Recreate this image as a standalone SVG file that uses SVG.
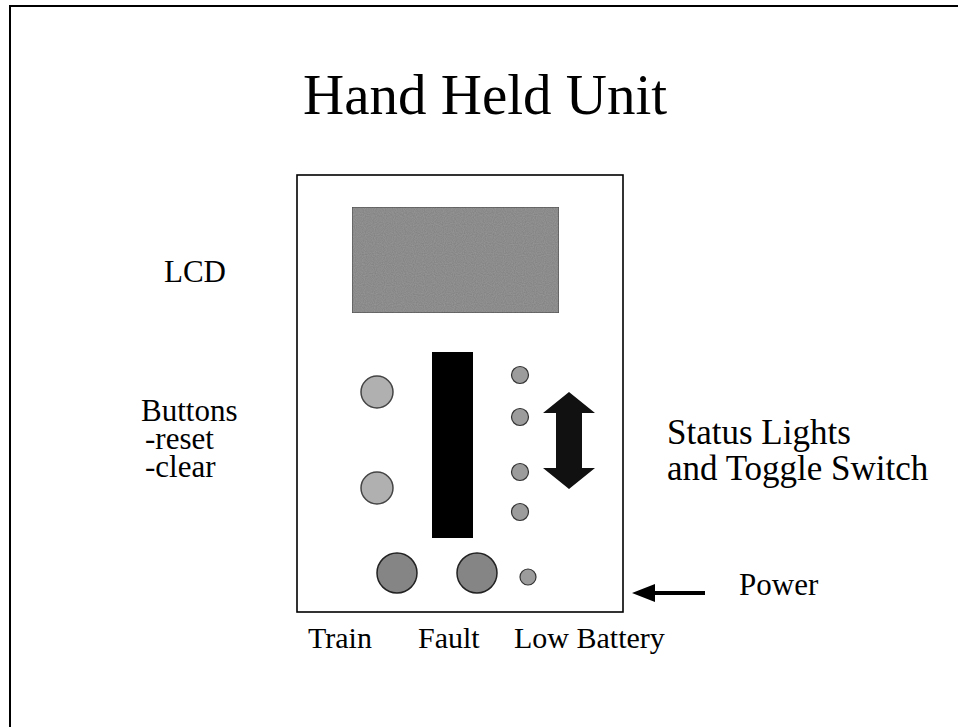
<svg xmlns="http://www.w3.org/2000/svg" width="958" height="727" viewBox="0 0 958 727">
  <style>
    .t { font-family: "Liberation Serif", "Times New Roman", "DejaVu Serif", serif; fill: #000; }
    .s31 { font-size: 31px; }
    .s30 { font-size: 30px; }
    .s35 { font-size: 35px; }
    .s57 { font-size: 57px; }
    .frame { fill: none; stroke: #000; stroke-width: 2; }
    .btn { fill: #b0b0b0; stroke: #444; stroke-width: 1.5; }
    .big { fill: #858585; stroke: #222; stroke-width: 1.5; }
    .led { fill: #9c9c9c; stroke: #333; stroke-width: 1.2; }
  </style>
  <defs>
    <filter id="grain" x="0" y="0" width="100%" height="100%">
      <feTurbulence type="fractalNoise" baseFrequency="0.9" numOctaves="1" seed="3" result="n"/>
      <feColorMatrix in="n" type="matrix" values="0 0 0 0 0.5  0 0 0 0 0.5  0 0 0 0 0.5  0 0 0 0.7 0" result="g"/>
      <feComposite in="g" in2="SourceGraphic" operator="in" result="gc"/>
      <feBlend in="SourceGraphic" in2="gc" mode="multiply"/>
    </filter>
  </defs>
  <rect width="958" height="727" fill="#fff"/>
  <!-- outer frame (top and left edges) -->
  <polyline class="frame" points="10,727 10,6 958,6"/>

  <g id="title">
    <text class="t s57" x="303" y="114">Hand Held Unit</text>
  </g>

  <g id="device">
    <rect x="297" y="175" width="326" height="437" fill="#fff" stroke="#000" stroke-width="1.6"/>
  </g>

  <g id="lcd">
    <rect x="352" y="207" width="207" height="106" fill="#999" stroke="#555" stroke-width="1.2" filter="url(#grain)"/>
  </g>

  <g id="toggle-bar">
    <rect x="432" y="352" width="41" height="186" fill="#000"/>
  </g>

  <g id="buttons">
    <circle class="btn" cx="377" cy="392" r="16"/>
    <circle class="btn" cx="377" cy="488" r="16"/>
  </g>

  <g id="bottom-lights">
    <circle class="big" cx="397" cy="573" r="20"/>
    <circle class="big" cx="477" cy="573" r="20"/>
    <circle class="led" cx="528" cy="577" r="8"/>
  </g>

  <g id="status-lights">
    <circle class="led" cx="520" cy="375" r="8.5"/>
    <circle class="led" cx="520" cy="417" r="8.5"/>
    <circle class="led" cx="520" cy="472" r="8.5"/>
    <circle class="led" cx="520" cy="512" r="8.5"/>
  </g>

  <g id="toggle-switch">
    <polygon points="569,392 595,413 582,413 582,468 595,468 569,489 543,468 556,468 556,413 543,413" fill="#111"/>
  </g>

  <g id="connectors">
    <polygon points="632,593 655,584 655,591 705,591 705,595 655,595 655,602" fill="#000"/>
  </g>

  <g id="labels">
    <text class="t s31" x="164" y="282">LCD</text>
    <text class="t s31" x="141" y="421">Buttons</text>
    <text class="t s31" x="145" y="449">-reset</text>
    <text class="t s31" x="145" y="477">-clear</text>
    <text class="t s35" x="667" y="444">Status Lights</text>
    <text class="t s35" x="667" y="480">and Toggle Switch</text>
    <text class="t s31" x="739" y="595">Power</text>
    <text class="t s30" x="308" y="648">Train</text>
    <text class="t s30" x="418" y="648">Fault</text>
    <text class="t s30" x="514" y="648">Low Battery</text>
  </g>
</svg>
